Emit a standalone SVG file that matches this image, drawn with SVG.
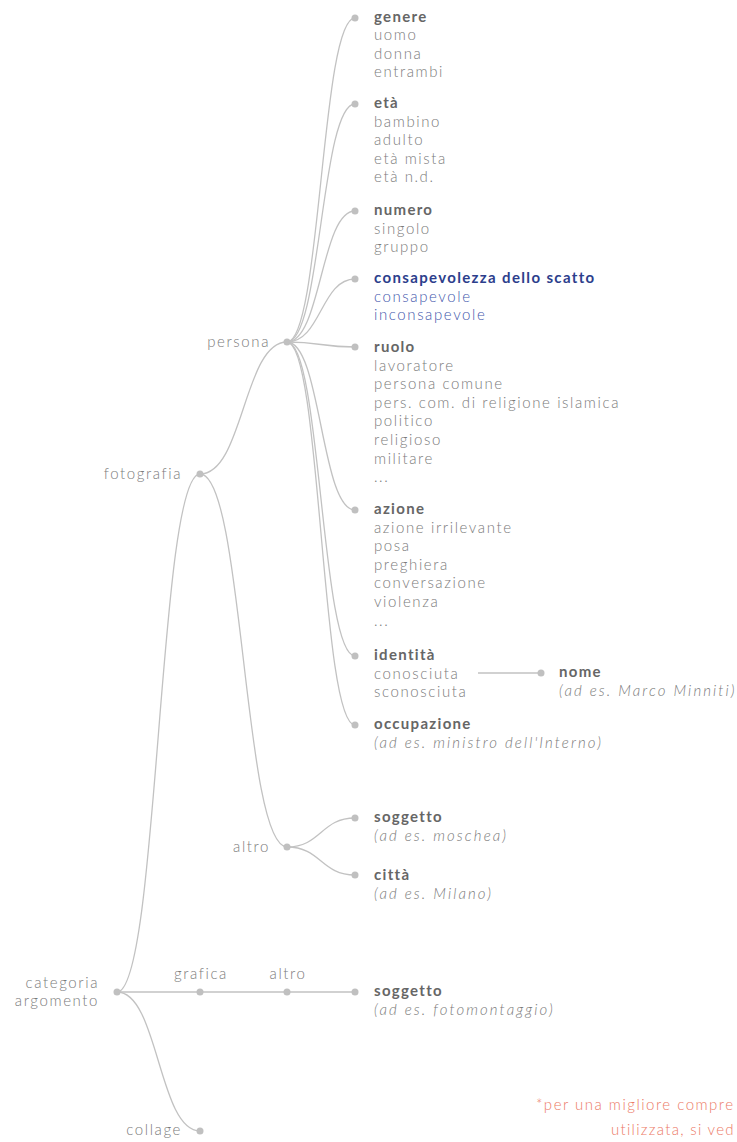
<svg xmlns="http://www.w3.org/2000/svg" width="737" height="1142" viewBox="0 0 737 1142">
  <style>
    text { font-family: Lato, "Open Sans", sans-serif; font-size: 15px; }
    .lbl { fill: #7b7b7b; font-weight: 300; letter-spacing: 1.6px; }
    .end { text-anchor: end; }
    .mid { text-anchor: middle; }
    .ttl { fill: #666666; font-weight: 700; letter-spacing: 1.3px; }
    .it { fill: #7b7b7b; font-weight: 300; letter-spacing: 1.6px; }
    .ex { fill: #7b7b7b; font-weight: 300; font-style: italic; letter-spacing: 2.1px; }
    .bttl { fill: #2c3e8c; font-weight: 700; letter-spacing: 1.35px; }
    .bit { fill: #4458ac; font-weight: 300; letter-spacing: 1.6px; }
    .note { fill: #ec7a66; font-weight: 300; letter-spacing: 1.5px; }
    .link { fill: none; stroke: #c2c2c2; stroke-width: 1.3; }
    .dot { fill: #c0c0c0; }
  </style>

  <!-- connectors -->
  <g id="links">
    <!-- root -->
    <path class="link" d="M117,992 C158.5,992 158.5,474 200,474"/>
    <path class="link" d="M117,992 L200,992"/>
    <path class="link" d="M117,992 C158.5,992 158.5,1131 200,1131"/>
    <!-- fotografia -->
    <path class="link" d="M200,474 C243.5,474 243.5,342 287,342"/>
    <path class="link" d="M200,474 C243.5,474 243.5,847 287,847"/>
    <!-- persona -->
    <path class="link" d="M287,342 C321,342 321,18 355,18"/>
    <path class="link" d="M287,342 C321,342 321,104 355,104"/>
    <path class="link" d="M287,342 C321,342 321,211 355,211"/>
    <path class="link" d="M287,342 C321,342 321,279 355,279"/>
    <path class="link" d="M287,342 C321,342 321,347 355,347"/>
    <path class="link" d="M287,342 C321,342 321,510 355,510"/>
    <path class="link" d="M287,342 C321,342 321,656 355,656"/>
    <path class="link" d="M287,342 C321,342 321,725 355,725"/>
    <!-- altro (fotografia) -->
    <path class="link" d="M287,847 C321,847 321,818 355,818"/>
    <path class="link" d="M287,847 C321,847 321,875 355,875"/>
    <!-- grafica -->
    <path class="link" d="M200,992 L355,992"/>
    <!-- identita: conosciuta -> nome -->
    <path class="link" d="M478,673 L541,673"/>
  </g>

  <g id="root">
    <circle class="dot" cx="117" cy="992" r="3.5"/>
    <text class="lbl end" x="99" y="988">categoria</text>
    <text class="lbl end" x="99" y="1006">argomento</text>
  </g>

  <g id="fotografia">
    <circle class="dot" cx="200" cy="474" r="3.5"/>
    <text class="lbl end" x="182" y="479">fotografia</text>
  </g>

  <g id="persona">
    <circle class="dot" cx="287" cy="342" r="3.5"/>
    <text class="lbl end" x="270" y="347">persona</text>
  </g>

  <g id="genere">
    <circle class="dot" cx="355" cy="18" r="3.5"/>
    <text x="374" y="22"><tspan class="ttl">genere</tspan>
      <tspan class="it" x="374" dy="18.4">uomo</tspan>
      <tspan class="it" x="374" dy="18.4">donna</tspan>
      <tspan class="it" x="374" dy="18.4">entrambi</tspan></text>
  </g>

  <g id="eta">
    <circle class="dot" cx="355" cy="104" r="3.5"/>
    <text x="374" y="108"><tspan class="ttl">età</tspan>
      <tspan class="it" x="374" dy="18.5">bambino</tspan>
      <tspan class="it" x="374" dy="18.5">adulto</tspan>
      <tspan class="it" x="374" dy="18.5">età mista</tspan>
      <tspan class="it" x="374" dy="18.5">età n.d.</tspan></text>
  </g>

  <g id="numero">
    <circle class="dot" cx="355" cy="211" r="3.5"/>
    <text x="374" y="215"><tspan class="ttl">numero</tspan>
      <tspan class="it" x="374" dy="18.5">singolo</tspan>
      <tspan class="it" x="374" dy="18.5">gruppo</tspan></text>
  </g>

  <g id="consapevolezza">
    <circle class="dot" cx="355" cy="279" r="3.5"/>
    <text x="374" y="283"><tspan class="bttl">consapevolezza dello scatto</tspan>
      <tspan class="bit" x="374" dy="18.5">consapevole</tspan>
      <tspan class="bit" x="374" dy="18.5">inconsapevole</tspan></text>
  </g>

  <g id="ruolo">
    <circle class="dot" cx="355" cy="347" r="3.5"/>
    <text x="374" y="352"><tspan class="ttl">ruolo</tspan>
      <tspan class="it" x="374" dy="18.6">lavoratore</tspan>
      <tspan class="it" x="374" dy="18.6">persona comune</tspan>
      <tspan class="it" x="374" dy="18.6">pers. com. di religione islamica</tspan>
      <tspan class="it" x="374" dy="18.6">politico</tspan>
      <tspan class="it" x="374" dy="18.6">religioso</tspan>
      <tspan class="it" x="374" dy="18.6">militare</tspan>
      <tspan class="it" x="374" dy="18.6">...</tspan></text>
  </g>

  <g id="azione">
    <circle class="dot" cx="355" cy="510" r="3.5"/>
    <text x="374" y="514"><tspan class="ttl">azione</tspan>
      <tspan class="it" x="374" dy="18.6">azione irrilevante</tspan>
      <tspan class="it" x="374" dy="18.6">posa</tspan>
      <tspan class="it" x="374" dy="18.6">preghiera</tspan>
      <tspan class="it" x="374" dy="18.6">conversazione</tspan>
      <tspan class="it" x="374" dy="18.6">violenza</tspan>
      <tspan class="it" x="374" dy="18.6">...</tspan></text>
  </g>

  <g id="identita">
    <circle class="dot" cx="355" cy="656" r="3.5"/>
    <text x="374" y="660"><tspan class="ttl">identità</tspan>
      <tspan class="it" x="374" dy="18.5">conosciuta</tspan>
      <tspan class="it" x="374" dy="18.5">sconosciuta</tspan></text>
  </g>

  <g id="nome">
    <circle class="dot" cx="541" cy="673" r="3.5"/>
    <text x="559" y="677"><tspan class="ttl">nome</tspan>
      <tspan class="ex" x="559" dy="18.5">(ad es. Marco Minniti)</tspan></text>
  </g>

  <g id="occupazione">
    <circle class="dot" cx="355" cy="725" r="3.5"/>
    <text x="374" y="729"><tspan class="ttl">occupazione</tspan>
      <tspan class="ex" x="374" dy="18.5">(ad es. ministro dell'Interno)</tspan></text>
  </g>

  <g id="altro-foto">
    <circle class="dot" cx="287" cy="847" r="3.5"/>
    <text class="lbl end" x="270" y="852">altro</text>
  </g>

  <g id="soggetto-foto">
    <circle class="dot" cx="355" cy="818" r="3.5"/>
    <text x="374" y="822"><tspan class="ttl">soggetto</tspan>
      <tspan class="ex" x="374" dy="18.5">(ad es. moschea)</tspan></text>
  </g>

  <g id="citta">
    <circle class="dot" cx="355" cy="875" r="3.5"/>
    <text x="374" y="880"><tspan class="ttl">città</tspan>
      <tspan class="ex" x="374" dy="18.5">(ad es. Milano)</tspan></text>
  </g>

  <g id="grafica">
    <circle class="dot" cx="200" cy="992" r="3.5"/>
    <text class="lbl mid" x="201" y="979">grafica</text>
  </g>

  <g id="altro-grafica">
    <circle class="dot" cx="287" cy="992" r="3.5"/>
    <text class="lbl mid" x="288" y="979">altro</text>
  </g>

  <g id="soggetto-grafica">
    <circle class="dot" cx="355" cy="992" r="3.5"/>
    <text x="374" y="996"><tspan class="ttl">soggetto</tspan>
      <tspan class="ex" x="374" dy="18.5">(ad es. fotomontaggio)</tspan></text>
  </g>

  <g id="collage">
    <circle class="dot" cx="200" cy="1131" r="3.5"/>
    <text class="lbl end" x="182" y="1135">collage</text>
  </g>

  <g id="nota">
    <text class="note" x="536" y="1110">*per una migliore compre</text>
    <text class="note" x="611" y="1135" style="letter-spacing:1.3px">utilizzata, si ved</text>
  </g>
</svg>
